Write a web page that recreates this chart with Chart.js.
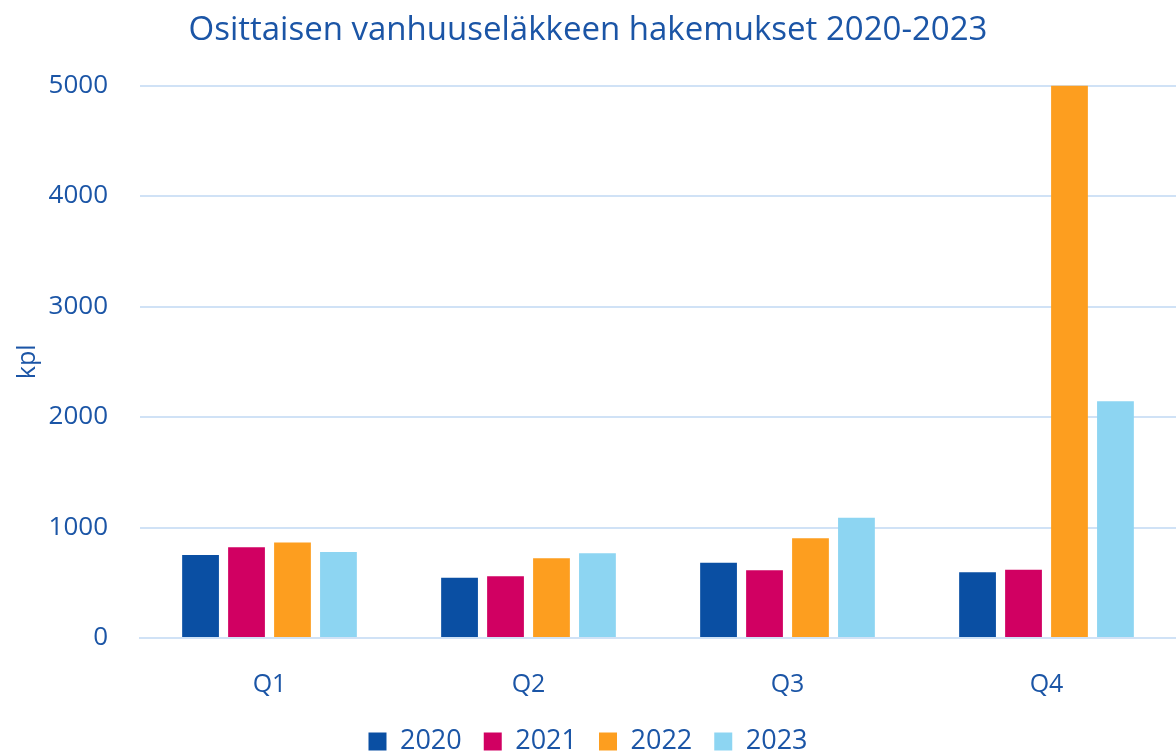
<!DOCTYPE html>
<html><head><meta charset="utf-8">
<script src="https://cdn.jsdelivr.net/npm/chart.js@4.4.1/dist/chart.umd.min.js"></script>
<style>html,body{margin:0;padding:0;background:#fff}#wrap{width:1176px;height:753px}</style>
</head><body><div id="wrap"><canvas id="c" width="1176" height="753"></canvas></div>
<script>
const categories = ['Q1','Q2','Q3','Q4'];
const seriesNames = ['2020','2021','2022','2023'];
const v2020 = [752, 545, 682, 595];
const v2021 = [822, 558, 613, 618];
const v2022 = [864, 722, 904, 5000];
const v2023 = [779, 767, 1088, 2143];
const yTicks = [0, 1000, 2000, 3000, 4000, 5000];
const colors = ['#0a4fa3','#d10062','#fd9e1f','#8dd5f2'];
const txt = '#1b55a6';
const font = "'Open Sans', 'Noto Sans', sans-serif";
const values = [v2020, v2021, v2022, v2023];

new Chart(document.getElementById('c'), {
  type: 'bar',
  data: {
    labels: categories,
    datasets: seriesNames.map((n,i)=>({label:n,data:values[i],backgroundColor:colors[i],borderWidth:0,
      categoryPercentage:0.71,barPercentage:0.8}))
  },
  options: {
    responsive:false, animation:false,
    layout:{padding:{left:0,right:0,top:0,bottom:-12}},
    plugins:{
      title:{display:true,text:'Osittaisen vanhuuseläkkeen hakemukset 2020-2023',color:txt,
        font:{family:font,size:33,weight:'normal'},padding:{top:11,bottom:35}},
      legend:{position:'bottom',labels:{color:txt,font:{family:font,size:27},boxWidth:18,boxHeight:18,padding:22},
        onClick:null},
      tooltip:{enabled:false}
    },
    scales:{
      x:{grid:{display:false},border:{display:true,color:'#d0e2f6',width:2},
        ticks:{color:txt,font:{family:font,size:25},padding:24},
        afterFit:(s)=>{s.height=68;}},
      y:{min:0,max:5000,afterBuildTicks:(s)=>{s.ticks=yTicks.map(v=>({value:v}));},
        grid:{color:'#d0e2f6',lineWidth:2,drawTicks:false},border:{display:false},
        ticks:{color:txt,font:{family:font,size:26},padding:32,callback:(v)=>String(v)},
        title:{display:true,text:'kpl',color:txt,font:{family:font,size:25},padding:{top:13,bottom:0}},
        afterFit:(s)=>{s.width=140;}}
    }
  }
});
</script></body></html>
